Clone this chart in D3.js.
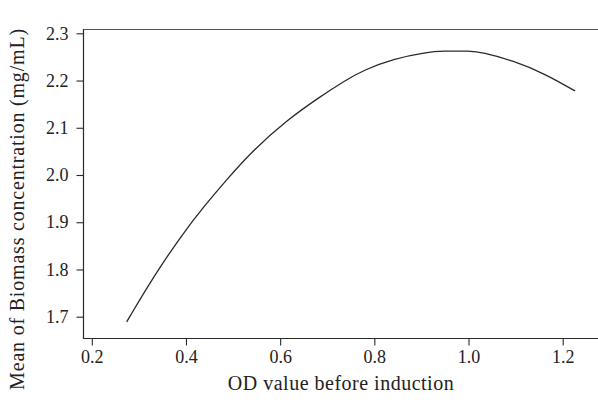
<!DOCTYPE html>
<html><head><meta charset="utf-8">
<script src="https://cdn.jsdelivr.net/npm/d3@7"></script>
<style>body{margin:0;background:#fff}svg{display:block}</style>
</head><body>
<svg id="c" width="598" height="402"></svg>
<script>
const odValues = [0.274,0.331,0.394,0.437,0.486,0.543,0.614,0.685,0.738,0.777,0.840,0.911,0.946,1.003,1.028,1.095,1.163,1.226];
const biomassMeans = [1.689,1.785,1.877,1.932,1.990,2.053,2.116,2.166,2.200,2.222,2.246,2.260,2.2625,2.2625,2.260,2.242,2.214,2.178];
const xTicks = [0.2,0.4,0.6,0.8,1.0,1.2];
const yTicks = [1.7,1.8,1.9,2.0,2.1,2.2,2.3];

const svg = d3.select("#c");
const font = "'Liberation Serif', 'Times New Roman', serif";
const L = 83, T = 29, R = 598, B = 338;
const x = d3.scaleLinear().domain([0.2,1.2]).range([91.8,562.7]);
const y = d3.scaleLinear().domain([1.7,2.3]).range([316.7,33.3]);
const ink = "#2a2a2a";

// frame
svg.append("line").attr("x1",L).attr("x2",R).attr("y1",T+0.5).attr("y2",T+0.5).attr("stroke","#555").attr("stroke-width",1.2);
svg.append("line").attr("x1",L).attr("x2",R).attr("y1",B+0.5).attr("y2",B+0.5).attr("stroke",ink).attr("stroke-width",1.2);
svg.append("line").attr("x1",L+0.5).attr("x2",L+0.5).attr("y1",T).attr("y2",B+1).attr("stroke",ink).attr("stroke-width",1.2);

const xa = svg.append("g").attr("transform",`translate(0,${B+0.5})`)
  .call(d3.axisBottom(x).tickValues(xTicks).tickFormat(d3.format(".1f")).tickSize(7).tickSizeOuter(0).tickPadding(5));
const ya = svg.append("g").attr("transform",`translate(${L+0.5},0)`)
  .call(d3.axisLeft(y).tickValues(yTicks).tickFormat(d3.format(".1f")).tickSize(7).tickSizeOuter(0).tickPadding(8));
[xa,ya].forEach(g=>{
  g.select(".domain").remove();
  g.selectAll("line").attr("stroke",ink).attr("stroke-width",1.1);
  g.selectAll("text").attr("fill","#222").style("font-family",font).style("font-size","18px");
});

svg.append("path")
  .datum(odValues.map((v,i)=>[v,biomassMeans[i]]))
  .attr("fill","none").attr("stroke",ink).attr("stroke-width",1.3)
  .attr("d", d3.line().curve(d3.curveBasis).x(d=>x(d[0])).y(d=>y(d[1])));

svg.append("text").attr("x",341).attr("y",390).attr("text-anchor","middle")
  .style("font-family",font).style("font-size","20px").style("letter-spacing","0.5px").attr("fill","#222")
  .text("OD value before induction");
svg.append("text").attr("transform","translate(24,209) rotate(-90)").attr("text-anchor","middle")
  .style("font-family",font).style("font-size","20px").style("letter-spacing","0.8px").attr("fill","#222")
  .text("Mean of Biomass concentration (mg/mL)");
</script>
</body></html>
